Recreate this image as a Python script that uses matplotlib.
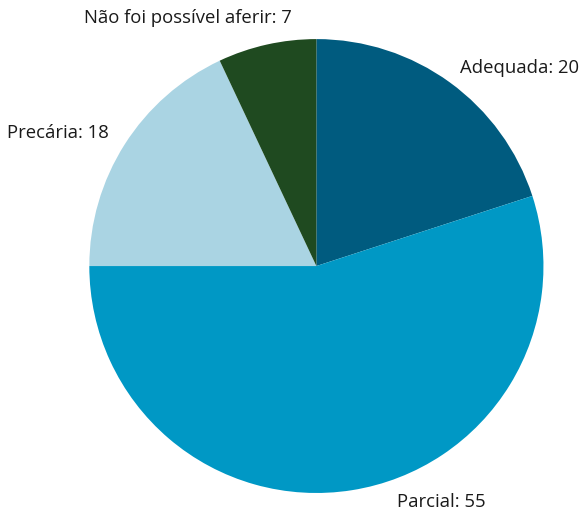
import matplotlib
matplotlib.use("Agg")
import matplotlib.pyplot as plt

categories = ["Adequada", "Parcial", "Precária", "Não foi possível aferir"]
values = [20, 55, 18, 7]
colors = ["#005b7f", "#0098c5", "#aad4e3", "#1f4a20"]

plt.rcParams['font.family'] = ['Open Sans', 'DejaVu Sans']

fig = plt.figure(figsize=(5.8, 5.1), dpi=100)
ax = fig.add_axes([0.154, 0.0314, 0.783, 0.890])

labels = ["%s: %d" % (c, v) for c, v in zip(categories, values)]
wedges, texts = ax.pie(values, colors=colors, startangle=90, counterclock=False,
                       labels=labels, wedgeprops=dict(linewidth=0),
                       textprops=dict(fontsize=13.3, color="#1a1a1a"))

# label placement tweaks (data coords, radius 1)
spots = [(0.634, 0.877, "left"), (0.551, -1.035, "center"),
         (-0.916, 0.590, "right"), (-0.568, 1.097, "center")]
for t, (x, y, ha) in zip(texts, spots):
    t.set_position((x, y))
    t.set_ha(ha)
    t.set_va("center")

ax.set_xlim(-1, 1)
ax.set_ylim(-1, 1)
ax.set_aspect("auto")

fig.savefig("out.png", dpi=100)
